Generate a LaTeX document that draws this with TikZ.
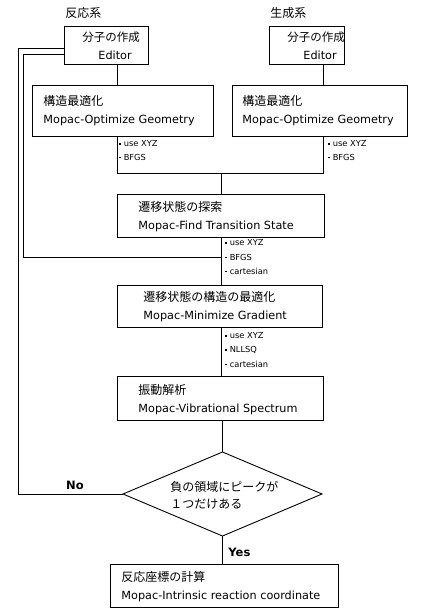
\documentclass[tikz,border=0pt]{standalone}
\usepackage{fontspec}
\setmainfont{DejaVu Sans}
\newfontfamily\jp{Noto Sans CJK JP}
\usetikzlibrary{shapes.geometric}
\newcommand\optdot{\rule[2pt]{1.5pt}{1.5pt}\hspace{2.8pt}}
\begin{document}
\begin{tikzpicture}[x=1pt,y=-1pt,
  line width=0.9pt,
  box/.style={draw, inner sep=0pt, outer sep=0pt, anchor=north west},
  btext/.style={anchor=west, align=left, inner sep=0pt, font=\fontsize{11.25}{18}\selectfont},
  jpt/.style={anchor=west, inner sep=0pt, font=\jp\fontsize{12}{17}\selectfont},
  opt/.style={anchor=west, inner sep=0pt, font=\fontsize{8.3}{14}\selectfont},
  yn/.style={inner sep=0pt, font=\bfseries\fontsize{11.5}{14}\selectfont}
]
\useasboundingbox (0,0) rectangle (423,614);

% boxes
\node[box, minimum width=84pt, minimum height=38pt] (b1) at (64,26) {};
\node[box, minimum width=75pt, minimum height=38pt] (b2) at (269,26) {};
\node[box, minimum width=181pt, minimum height=51pt] (b3) at (32,85) {};
\node[box, minimum width=175pt, minimum height=51pt] (b4) at (232,85) {};
\node[box, minimum width=207pt, minimum height=43pt] (b5) at (117,194) {};
\node[box, minimum width=205pt, minimum height=42pt] (b6) at (117,285) {};
\node[box, minimum width=206pt, minimum height=44pt] (b7) at (117,376) {};
\node[box, minimum width=228pt, minimum height=43pt] (b8) at (110,564) {};
\node[draw, diamond, inner sep=0pt, outer sep=0pt, minimum width=199pt, minimum height=84pt] (d) at (222.5,494) {};

% texts in boxes
\node[btext] (t1) at (82,45.5) {{\jp\fontsize{11.5}{18}\selectfont 分子の作成}\\\hspace*{16pt}Editor};
\node[btext] (t2) at (287,45.5) {{\jp\fontsize{11.5}{18}\selectfont 分子の作成}\\\hspace*{16pt}Editor};
\node[btext] (t3) at (43,111) {{\jp\fontsize{12}{18}\selectfont 構造最適化}\\Mopac-Optimize Geometry};
\node[btext] (t4) at (242,111) {{\jp\fontsize{12}{18}\selectfont 構造最適化}\\Mopac-Optimize Geometry};
\node[btext] (t5) at (138,217) {{\jp\fontsize{12}{18}\selectfont 遷移状態の探索}\\Mopac-Find Transition State};
\node[btext] (t6) at (143,307) {{\jp\fontsize{12}{18}\selectfont 遷移状態の構造の最適化}\\Mopac-Minimize Gradient};
\node[btext] (t7) at (138,399.5) {{\jp\fontsize{12}{18}\selectfont 振動解析}\\Mopac-Vibrational Spectrum};
\node[btext] (t8) at (121,587) {{\jp\fontsize{12}{18}\selectfont 反応座標の計算}\\Mopac-Intrinsic reaction coordinate};
\node[jpt, align=left] (dt) at (170,495.5) {負の領域にピークが\\１つだけある};

% headings
\node[jpt] (l1) at (65,13) {反応系};
\node[jpt] (l2) at (270,13) {生成系};
\node[yn] (no) at (75,485) {No};
\node[yn, anchor=west] (yes) at (228,552) {Yes};

% option labels
\node[opt] (o1) at (119,144) {\optdot use XYZ};
\node[opt] (o2) at (119,157) {\optdot BFGS};
\node[opt] (o3) at (328,144) {\optdot use XYZ};
\node[opt] (o4) at (328,157) {\optdot BFGS};
\node[opt] (o5) at (225,243) {\optdot use XYZ};
\node[opt] (o6) at (225,257) {\optdot BFGS};
\node[opt] (o7) at (225,271) {\optdot cartesian};
\node[opt] (o8) at (225,336) {\optdot use XYZ};
\node[opt] (o9) at (225,350) {\optdot NLLSQ};
\node[opt] (o10) at (225,364) {\optdot cartesian};

% junction coordinates
\coordinate (j1) at (117,173);
\coordinate (j2) at (323.5,173);
\coordinate (j3) at (221,173);
\coordinate (f1) at (221,257);
\coordinate (k1) at (23,54);
\coordinate (k2) at (18,48);

% connectors
\draw (b1.south -| j1) -- (b3.north -| j1);
\draw (b2.south -| j2) -- (b4.north -| j2);
\draw (b3.south -| j1) -- (j1) -- (j2) -- (b4.south -| j2);
\draw (j3) -- (b5.north -| j3);
\draw (b5.south -| j3) -- (b6.north -| j3);
\draw (b6.south -| j3) -- (b7.north -| j3);
\draw (b7.south -| d.north) -- (d.north);
\draw (d.south) -- (d.south |- b8.north);
\draw (f1) -| (k1) -- (k1 -| b1.west);
\draw (d.west) -| (k2) -- (k2 -| b1.west);
\end{tikzpicture}
\end{document}
